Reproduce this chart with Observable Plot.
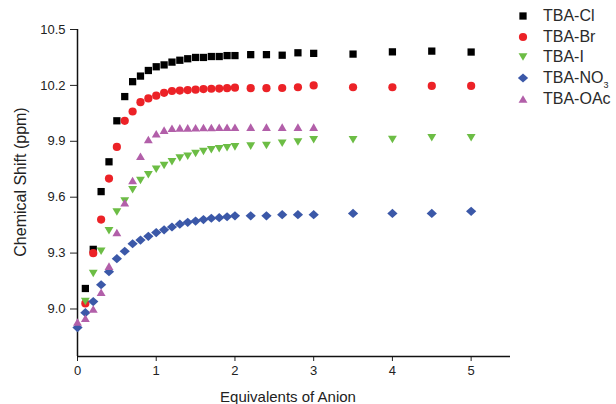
<!DOCTYPE html>
<html><head><meta charset="utf-8">
<script src="https://cdn.jsdelivr.net/npm/d3@7"></script>
<script src="https://cdn.jsdelivr.net/npm/@observablehq/plot@0.6"></script>
<style>
body{margin:0;background:#fff;font-family:Arial,"Liberation Sans",sans-serif;}
#wrap{position:relative;width:616px;height:404px;overflow:hidden;background:#fff;}
#legend{position:absolute;left:513px;top:6px;font-size:16px;color:#2a2a2a;}
.row{height:20.6px;display:flex;align-items:center;white-space:nowrap;}
.row svg{width:20px;height:12px;margin-right:10px;flex:none;}
.row sub{font-size:9px;vertical-align:-5px;line-height:0;}
</style></head><body><div id="wrap"><div id="legend"></div></div>
<script>
// Data
const seriesNames = ["TBA-Cl", "TBA-Br", "TBA-I", "TBA-NO3", "TBA-OAc"];
const xTicks = [0, 1, 2, 3, 4, 5];
const yTicks = [9.0, 9.3, 9.6, 9.9, 10.2, 10.5];

const xCl = [0.1,0.2,0.3,0.4,0.5,0.6,0.7,0.8,0.9,1.0,1.1,1.2,1.3,1.4,1.5,1.6,1.7,1.8,1.9,2.0,2.2,2.4,2.6,2.8,3.0,3.5,4.0,4.5,5.0];
const yCl = [9.11,9.32,9.63,9.79,10.01,10.14,10.22,10.25,10.28,10.30,10.31,10.325,10.335,10.343,10.35,10.35,10.355,10.355,10.36,10.36,10.365,10.365,10.362,10.375,10.372,10.368,10.38,10.384,10.379];

const xBr = [0.1,0.2,0.3,0.4,0.5,0.6,0.7,0.8,0.9,1.0,1.1,1.2,1.3,1.4,1.5,1.6,1.7,1.8,1.9,2.0,2.2,2.4,2.6,2.8,3.0,3.5,4.0,4.5,5.0];
const yBr = [9.03,9.30,9.48,9.70,9.87,10.01,10.06,10.11,10.13,10.145,10.16,10.17,10.172,10.175,10.177,10.18,10.182,10.183,10.185,10.188,10.185,10.185,10.186,10.19,10.20,10.19,10.19,10.197,10.197];

const xI = [0.1,0.2,0.3,0.4,0.5,0.6,0.7,0.8,0.9,1.0,1.1,1.2,1.3,1.4,1.5,1.6,1.7,1.8,1.9,2.0,2.2,2.4,2.6,2.8,3.0,3.5,4.0,4.5,5.0];
const yI = [9.04,9.19,9.31,9.42,9.52,9.58,9.64,9.69,9.72,9.75,9.77,9.79,9.81,9.82,9.835,9.845,9.855,9.86,9.865,9.87,9.874,9.877,9.89,9.896,9.908,9.908,9.91,9.919,9.919];

const xNO3 = [0,0.1,0.2,0.3,0.4,0.5,0.6,0.7,0.8,0.9,1.0,1.1,1.2,1.3,1.4,1.5,1.6,1.7,1.8,1.9,2.0,2.2,2.4,2.6,2.8,3.0,3.5,4.0,4.5,5.0];
const yNO3 = [8.90,8.98,9.04,9.13,9.20,9.27,9.31,9.35,9.37,9.39,9.41,9.425,9.44,9.455,9.465,9.472,9.48,9.487,9.49,9.495,9.50,9.50,9.50,9.506,9.506,9.506,9.513,9.513,9.513,9.524];

const xOAc = [0,0.1,0.2,0.3,0.4,0.5,0.6,0.7,0.8,0.9,1.0,1.1,1.2,1.3,1.4,1.5,1.6,1.7,1.8,1.9,2.0,2.2,2.4,2.6,2.8,3.0];
const yOAc = [8.93,8.95,9.00,9.09,9.23,9.41,9.57,9.69,9.82,9.91,9.94,9.96,9.97,9.972,9.972,9.973,9.974,9.974,9.975,9.975,9.975,9.976,9.976,9.976,9.976,9.976];

const colors = ["#000000", "#ec2227", "#6cbd45", "#3b58a8", "#b25fa9"];

// custom symbols
const triUp = {draw(ctx, size) { const r = Math.sqrt(size / Math.PI); const hw = 1.08 * r, hh = 0.92 * r;
  ctx.moveTo(0, -hh); ctx.lineTo(hw, hh); ctx.lineTo(-hw, hh); ctx.closePath(); }};
const triDown = {draw(ctx, size) { const r = Math.sqrt(size / Math.PI); const hw = 1.08 * r, hh = 0.92 * r;
  ctx.moveTo(0, hh); ctx.lineTo(hw, -hh); ctx.lineTo(-hw, -hh); ctx.closePath(); }};
const diamond = {draw(ctx, size) { const r = Math.sqrt(size / Math.PI); const hw = 1.25 * r, hh = 1.12 * r;
  ctx.moveTo(0, -hh); ctx.lineTo(hw, 0); ctx.lineTo(0, hh); ctx.lineTo(-hw, 0); ctx.closePath(); }};
const symbols = [d3.symbolSquare, d3.symbolCircle, triDown, diamond, triUp];

const xs = [xCl, xBr, xI, xNO3, xOAc];
const ys = [yCl, yBr, yI, yNO3, yOAc];
const R = 4.1;

const dots = xs.map((xArr, k) => Plot.dot(
  xArr.map((x, i) => ({x, y: ys[k][i]})),
  {x: "x", y: "y", r: R, symbol: symbols[k], fill: colors[k], stroke: "none"}
));

const yMin = 8.745;
const plot = Plot.plot({
  width: 616, height: 404,
  marginLeft: 77, marginRight: 106, marginTop: 29, marginBottom: 48,
  x: {domain: [0, 5.5]},
  y: {domain: [yMin, 10.5]},
  style: {fontFamily: "Arial, 'Liberation Sans', sans-serif", fontSize: "13px", color: "#222", background: "white"},
  marks: [
    Plot.axisX({ticks: xTicks, tickSize: 5, tickPadding: 4, tickFormat: d => String(d), label: null}),
    Plot.axisY({ticks: yTicks, tickSize: 7, tickPadding: 5, tickFormat: d3.format(".1f"), label: null}),
    Plot.ruleX([0], {stroke: "#111", strokeWidth: 1.5}),
    Plot.ruleY([yMin], {stroke: "#111", strokeWidth: 1.5}),
    ...dots,
    Plot.text(["Equivalents of Anion"], {text: d => d, frameAnchor: "bottom", textAnchor: "middle", lineAnchor: "middle", dy: 41, dx: -6, fontSize: 15, fill: "#222"}),
    Plot.text(["Chemical Shift (ppm)"], {text: d => d, frameAnchor: "left", textAnchor: "middle", lineAnchor: "middle", rotate: -90, dx: -57, dy: -11, fontSize: 16, fill: "#222"})
  ]
});
document.getElementById("wrap").prepend(plot);

// legend
const legend = document.getElementById("legend");
seriesNames.forEach((name, k) => {
  const row = document.createElement("div");
  row.className = "row";
  const path = d3.symbol().type(symbols[k]).size(R * R * Math.PI)();
  const label = name === "TBA-NO3" ? "TBA-NO<sub>3</sub>" : name;
  row.innerHTML = `<svg viewBox="-10 -6 20 12"><path d="${path}" fill="${colors[k]}"/></svg><span>${label}</span>`;
  legend.appendChild(row);
});
</script>
</body></html>
